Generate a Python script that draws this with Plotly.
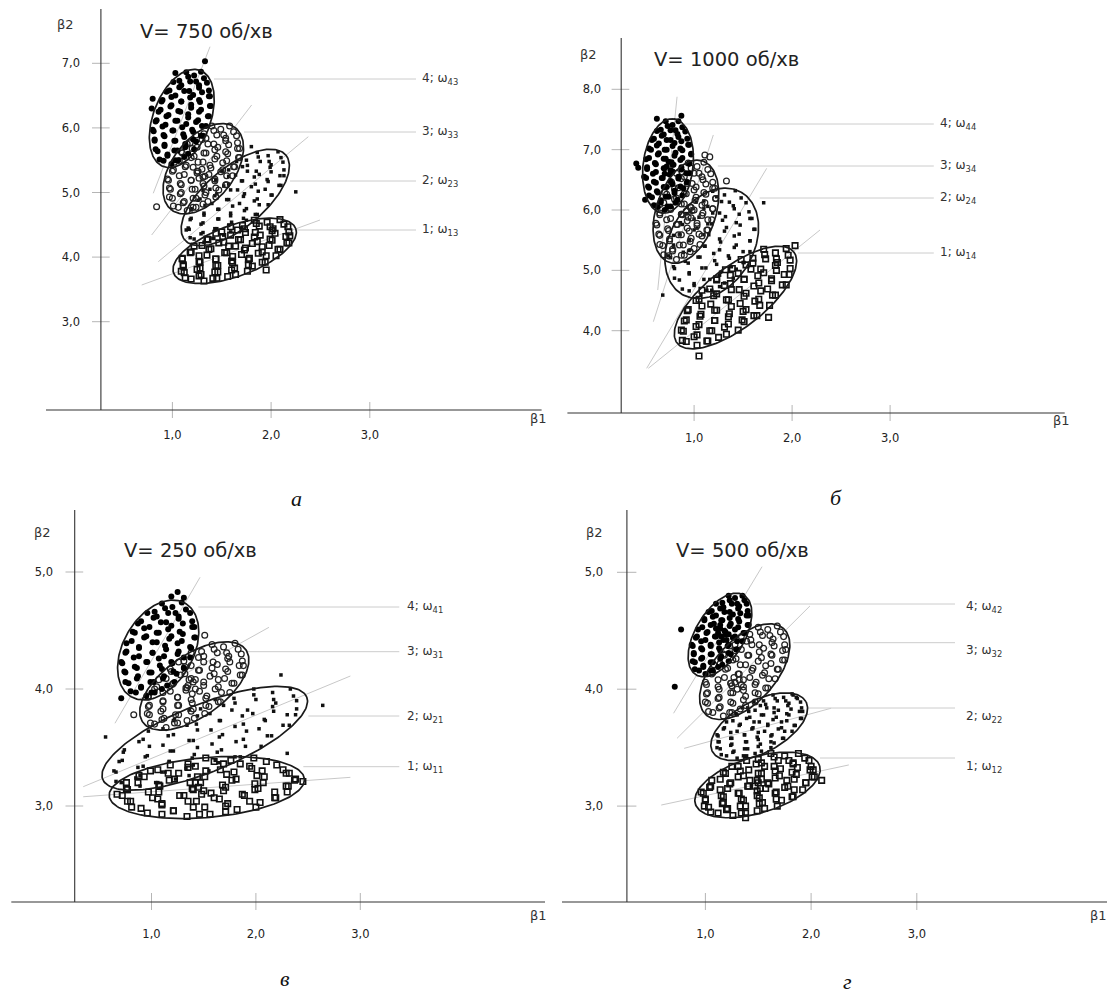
import numpy as np
import plotly.graph_objects as go

W, H = 1110, 999

# ---------------- data ----------------
speeds = ["V= 750 об/хв", "V= 1000 об/хв", "V= 250 об/хв", "V= 500 об/хв"]
panel_letters = ["а", "б", "в", "г"]
x_tickvals = [1, 2, 3]
x_ticktext = ["1,0", "2,0", "3,0"]
y_tickvals = [[3, 4, 5, 6, 7], [4, 5, 6, 7, 8], [3, 4, 5], [3, 4, 5]]
y_ticktext = [["3,0", "4,0", "5,0", "6,0", "7,0"], ["4,0", "5,0", "6,0", "7,0", "8,0"],
              ["3,0", "4,0", "5,0"], ["3,0", "4,0", "5,0"]]
class_labels = [
    ["1; ω<sub>13</sub>", "2; ω<sub>23</sub>", "3; ω<sub>33</sub>", "4; ω<sub>43</sub>"],
    ["1; ω<sub>14</sub>", "2; ω<sub>24</sub>", "3; ω<sub>34</sub>", "4; ω<sub>44</sub>"],
    ["1; ω<sub>11</sub>", "2; ω<sub>21</sub>", "3; ω<sub>31</sub>", "4; ω<sub>41</sub>"],
    ["1; ω<sub>12</sub>", "2; ω<sub>22</sub>", "3; ω<sub>32</sub>", "4; ω<sub>42</sub>"],
]

# ---- panel а (V=750) : (beta1, beta2)
A4 = [(1.14,6.86),(1.22,6.81),(1.29,6.87),
      (1.01,6.71),(1.09,6.66),(1.18,6.72),(1.27,6.66),(1.35,6.70),
      (0.94,6.56),(1.03,6.50),(1.12,6.57),(1.21,6.51),(1.30,6.55),(1.38,6.49),
      (0.89,6.41),(0.99,6.35),(1.09,6.41),(1.19,6.36),(1.28,6.40),(1.38,6.34),
      (0.86,6.25),(0.96,6.20),(1.06,6.26),(1.16,6.21),(1.27,6.25),(1.37,6.18),
      (0.83,6.10),(0.93,6.05),(1.03,6.11),(1.14,6.06),(1.24,6.09),(1.34,6.03),
      (0.81,5.95),(0.91,5.89),(1.01,5.96),(1.11,5.90),(1.21,5.94),(1.31,5.88),
      (0.82,5.80),(0.92,5.74),(1.03,5.80),(1.13,5.75),(1.24,5.79),
      (0.85,5.64),(0.95,5.59),(1.05,5.65),(1.16,5.60),
      (0.91,5.49),(0.99,5.44),(1.06,5.50),
      (1.33,7.03),(1.03,6.85),(0.79,6.30),(0.80,6.45),
      (1.07,6.73),(1.16,6.79),(1.24,6.72),(1.32,6.77),
      (0.97,6.58),(1.07,6.63),(1.17,6.57),(1.27,6.62),(1.37,6.58),
      (0.90,6.43),(0.99,6.48),(1.09,6.41),(1.18,6.47),(1.27,6.43),(1.37,6.49),
      (0.88,6.28),(0.98,6.33),(1.08,6.25),(1.19,6.31),(1.29,6.28),(1.39,6.34),
      (0.84,6.12),(0.94,6.18),(1.05,6.11),(1.16,6.16),(1.26,6.12),(1.36,6.18),
      (0.80,5.97),(0.90,6.02),(1.00,5.96),(1.10,6.01),(1.20,5.97),(1.30,6.03),
      (0.82,5.82),(0.92,5.87),(1.02,5.80),(1.12,5.86),(1.21,5.82),(1.29,5.88),
      (0.83,5.67),(0.92,5.72),(1.02,5.65),(1.13,5.70),(1.22,5.67),
      (0.87,5.51),(0.95,5.57),(1.03,5.50),(1.12,5.55)]
A3 = [(1.40,6.03),(1.49,5.98),(1.58,6.03),
      (1.24,5.89),(1.34,5.84),(1.45,5.89),(1.54,5.84),(1.65,5.88),
      (1.15,5.75),(1.25,5.70),(1.36,5.75),(1.46,5.70),(1.57,5.74),(1.68,5.68),
      (1.10,5.61),(1.22,5.56),(1.34,5.61),(1.45,5.56),(1.56,5.60),(1.68,5.54),
      (1.02,5.47),(1.14,5.42),(1.26,5.47),(1.38,5.42),(1.51,5.46),(1.63,5.40),
      (1.00,5.33),(1.12,5.28),(1.25,5.33),(1.37,5.28),(1.49,5.32),(1.61,5.26),
      (0.96,5.19),(1.08,5.14),(1.19,5.19),(1.31,5.14),(1.43,5.18),(1.55,5.12),
      (0.98,5.05),(1.09,5.00),(1.23,5.05),(1.34,5.00),(1.47,5.04),
      (1.00,4.91),(1.12,4.86),(1.24,4.91),(1.36,4.86),
      (1.06,4.77),(1.15,4.72),(1.24,4.77),
      (0.84,4.78),(1.25,5.30),(1.30,5.36),(1.27,5.22),(1.33,5.25),(1.21,5.39),
      (1.32,5.91),(1.42,5.96),(1.52,5.89),(1.62,5.94),
      (1.18,5.77),(1.30,5.82),(1.42,5.75),(1.54,5.80),(1.66,5.77),
      (1.09,5.63),(1.20,5.68),(1.32,5.61),(1.43,5.66),(1.54,5.63),(1.66,5.68),
      (1.07,5.49),(1.19,5.54),(1.31,5.47),(1.43,5.52),(1.55,5.49),(1.67,5.54),
      (1.01,5.35),(1.13,5.40),(1.26,5.33),(1.39,5.38),(1.51,5.35),(1.62,5.40),
      (0.95,5.21),(1.07,5.26),(1.19,5.19),(1.31,5.24),(1.43,5.21),(1.55,5.26),
      (0.97,5.07),(1.09,5.12),(1.20,5.05),(1.32,5.10),(1.44,5.07),(1.54,5.12),
      (0.97,4.93),(1.08,4.98),(1.21,4.91),(1.33,4.96),(1.44,4.93),
      (1.01,4.79),(1.11,4.84),(1.21,4.77),(1.31,4.82)]
A2 = [(1.86,5.62),(1.97,5.57),(2.07,5.63),
      (1.65,5.48),(1.76,5.42),(1.89,5.48),(2.00,5.43),(2.12,5.47),
      (1.51,5.33),(1.64,5.27),(1.76,5.33),(1.88,5.28),(2.00,5.32),(2.13,5.26),
      (1.44,5.18),(1.57,5.13),(1.71,5.18),(1.84,5.13),(1.97,5.17),(2.10,5.11),
      (1.31,5.03),(1.45,4.98),(1.59,5.04),(1.73,4.98),(1.87,5.02),(2.01,4.96),
      (1.26,4.88),(1.40,4.83),(1.55,4.89),(1.68,4.83),(1.83,4.87),(1.97,4.81),
      (1.19,4.73),(1.32,4.68),(1.46,4.74),(1.59,4.68),(1.73,4.72),(1.86,4.66),
      (1.18,4.58),(1.31,4.53),(1.47,4.59),(1.60,4.54),(1.75,4.57),
      (1.17,4.43),(1.31,4.38),(1.45,4.44),(1.59,4.39),
      (1.22,4.28),(1.32,4.23),(1.42,4.29),
      (2.25,5.01),(1.80,5.71),(1.14,4.42),
      (1.75,5.50),(1.87,5.55),(1.98,5.48),(2.10,5.54),
      (1.57,5.35),(1.71,5.40),(1.85,5.33),(1.99,5.39),(2.13,5.35),
      (1.44,5.20),(1.57,5.25),(1.70,5.18),(1.83,5.24),(1.96,5.20),(2.09,5.26),
      (1.38,5.05),(1.52,5.10),(1.66,5.04),(1.80,5.09),(1.94,5.05),(2.08,5.11),
      (1.28,4.90),(1.43,4.95),(1.57,4.89),(1.72,4.94),(1.86,4.90),(2.00,4.96),
      (1.19,4.75),(1.33,4.80),(1.47,4.74),(1.61,4.79),(1.75,4.75),(1.88,4.81),
      (1.19,4.60),(1.32,4.65),(1.46,4.59),(1.59,4.64),(1.72,4.60),(1.84,4.66),
      (1.16,4.45),(1.29,4.51),(1.43,4.44),(1.57,4.49),(1.70,4.45),
      (1.18,4.30),(1.29,4.36),(1.41,4.29),(1.52,4.34)]
A1 = [(1.83,4.57),(1.96,4.54),(2.09,4.58),
      (1.59,4.47),(1.73,4.44),(1.88,4.48),(2.02,4.44),(2.17,4.47),
      (1.44,4.37),(1.59,4.34),(1.74,4.38),(1.89,4.34),(2.04,4.37),(2.19,4.33),
      (1.36,4.27),(1.52,4.23),(1.69,4.27),(1.86,4.24),(2.01,4.26),(2.18,4.22),
      (1.22,4.17),(1.39,4.13),(1.57,4.17),(1.74,4.14),(1.91,4.16),(2.09,4.12),
      (1.18,4.07),(1.35,4.03),(1.53,4.07),(1.70,4.04),(1.87,4.06),(2.05,4.02),
      (1.10,3.97),(1.27,3.93),(1.44,3.97),(1.60,3.94),(1.77,3.96),(1.94,3.92),
      (1.11,3.86),(1.28,3.83),(1.46,3.87),(1.63,3.83),(1.81,3.86),
      (1.12,3.76),(1.29,3.73),(1.46,3.77),(1.64,3.73),
      (1.19,3.66),(1.32,3.63),(1.45,3.67),
      (1.95,3.80),
      (1.71,4.49),(1.85,4.52),(1.99,4.47),(2.13,4.51),
      (1.50,4.39),(1.66,4.42),(1.84,4.38),(2.01,4.41),(2.18,4.39),
      (1.35,4.28),(1.51,4.32),(1.67,4.27),(1.83,4.31),(1.99,4.28),(2.15,4.32),
      (1.30,4.18),(1.47,4.22),(1.64,4.17),(1.81,4.21),(1.98,4.18),(2.16,4.22),
      (1.19,4.08),(1.37,4.12),(1.55,4.07),(1.73,4.11),(1.91,4.08),(2.07,4.12),
      (1.10,3.98),(1.27,4.02),(1.44,3.97),(1.61,4.01),(1.78,3.98),(1.95,4.02),
      (1.11,3.88),(1.28,3.92),(1.44,3.87),(1.61,3.91),(1.77,3.88),(1.91,3.92),
      (1.09,3.78),(1.25,3.81),(1.43,3.77),(1.60,3.80),(1.76,3.78),
      (1.13,3.68),(1.27,3.71),(1.41,3.67),(1.56,3.70)]

# ---- panel б (V=1000)
B4 = [(0.71,7.47),(0.78,7.41),(0.84,7.47),
      (0.62,7.31),(0.69,7.25),(0.76,7.32),(0.83,7.26),(0.91,7.30),
      (0.57,7.16),(0.64,7.10),(0.72,7.16),(0.80,7.11),(0.87,7.14),(0.95,7.08),
      (0.56,7.00),(0.64,6.94),(0.72,7.00),(0.81,6.95),(0.88,6.99),(0.97,6.93),
      (0.51,6.84),(0.60,6.78),(0.69,6.85),(0.77,6.79),(0.86,6.83),(0.95,6.77),
      (0.52,6.68),(0.61,6.63),(0.70,6.69),(0.78,6.64),(0.87,6.67),(0.95,6.61),
      (0.51,6.53),(0.59,6.47),(0.68,6.53),(0.76,6.48),(0.84,6.52),(0.93,6.46),
      (0.54,6.37),(0.62,6.31),(0.72,6.38),(0.80,6.32),(0.89,6.36),
      (0.57,6.21),(0.66,6.16),(0.74,6.22),(0.83,6.17),
      (0.63,6.05),(0.70,6.00),(0.76,6.06),
      (0.43,6.70),(0.41,6.77),(0.87,7.56),(0.62,7.51),(0.50,6.17),
      (0.72,6.72),(0.76,6.66),(0.70,6.60),(0.78,6.75),(0.74,6.80),
      (0.66,7.33),(0.73,7.39),(0.81,7.32),(0.88,7.37),
      (0.59,7.18),(0.67,7.23),(0.76,7.16),(0.84,7.21),(0.93,7.18),
      (0.54,7.02),(0.62,7.07),(0.70,7.00),(0.78,7.06),(0.86,7.02),(0.94,7.08),
      (0.54,6.86),(0.63,6.92),(0.71,6.85),(0.80,6.90),(0.88,6.86),(0.97,6.92),
      (0.52,6.71),(0.61,6.76),(0.69,6.69),(0.79,6.75),(0.87,6.71),(0.95,6.77),
      (0.49,6.55),(0.58,6.60),(0.67,6.53),(0.75,6.59),(0.84,6.55),(0.92,6.61),
      (0.53,6.39),(0.61,6.45),(0.69,6.38),(0.78,6.43),(0.86,6.39),(0.93,6.46),
      (0.54,6.24),(0.63,6.29),(0.71,6.22),(0.80,6.28),(0.88,6.24),
      (0.59,6.08),(0.66,6.13),(0.73,6.06),(0.81,6.12)]
B3 = [(0.94,6.78),(1.03,6.72),(1.10,6.79),
      (0.82,6.61),(0.90,6.55),(1.00,6.61),(1.08,6.55),(1.17,6.60),
      (0.75,6.43),(0.84,6.37),(0.93,6.44),(1.02,6.38),(1.12,6.43),(1.21,6.36),
      (0.72,6.26),(0.82,6.20),(0.92,6.27),(1.02,6.21),(1.12,6.26),(1.22,6.19),
      (0.65,6.09),(0.76,6.03),(0.87,6.10),(0.97,6.04),(1.08,6.08),(1.19,6.02),
      (0.65,5.92),(0.76,5.86),(0.87,5.93),(0.97,5.87),(1.08,5.91),(1.18,5.84),
      (0.62,5.75),(0.73,5.69),(0.83,5.76),(0.93,5.70),(1.03,5.74),(1.14,5.67),
      (0.65,5.58),(0.75,5.52),(0.87,5.59),(0.97,5.53),(1.08,5.57),
      (0.68,5.41),(0.78,5.35),(0.89,5.42),(1.00,5.36),
      (0.74,5.24),(0.82,5.18),(0.90,5.25),
      (1.11,6.91),(1.16,6.88),(1.33,6.48),
      (0.92,5.98),(0.96,6.05),(0.88,5.92),(0.94,5.88),(1.00,6.00),
      (0.88,6.63),(0.97,6.69),(1.05,6.61),(1.14,6.67),
      (0.77,6.46),(0.87,6.52),(0.98,6.44),(1.09,6.50),(1.19,6.46),
      (0.70,6.29),(0.80,6.35),(0.90,6.27),(1.00,6.33),(1.10,6.29),(1.19,6.36),
      (0.69,6.12),(0.80,6.18),(0.90,6.10),(1.01,6.16),(1.11,6.12),(1.22,6.19),
      (0.65,5.95),(0.76,6.01),(0.87,5.93),(0.98,5.99),(1.09,5.95),(1.19,6.02),
      (0.61,5.78),(0.72,5.84),(0.82,5.76),(0.93,5.82),(1.03,5.78),(1.14,5.84),
      (0.64,5.60),(0.74,5.66),(0.84,5.59),(0.95,5.65),(1.05,5.60),(1.13,5.67),
      (0.65,5.43),(0.75,5.49),(0.85,5.42),(0.96,5.48),(1.06,5.43),
      (0.69,5.26),(0.78,5.32),(0.87,5.25),(0.96,5.31)]
B2 = [(1.19,6.31),(1.31,6.25),(1.42,6.32),
      (1.02,6.13),(1.14,6.06),(1.28,6.14),(1.40,6.07),(1.53,6.12),
      (0.92,5.94),(1.05,5.88),(1.19,5.95),(1.32,5.89),(1.46,5.93),(1.59,5.86),
      (0.88,5.76),(1.03,5.70),(1.18,5.77),(1.33,5.71),(1.47,5.75),(1.62,5.68),
      (0.79,5.58),(0.95,5.51),(1.10,5.59),(1.26,5.52),(1.41,5.57),(1.57,5.49),
      (0.79,5.39),(0.95,5.33),(1.11,5.40),(1.26,5.34),(1.41,5.38),(1.57,5.31),
      (0.76,5.21),(0.91,5.15),(1.06,5.22),(1.21,5.16),(1.36,5.20),(1.51,5.13),
      (0.80,5.03),(0.95,4.96),(1.12,5.04),(1.27,4.97),(1.43,5.02),
      (0.85,4.84),(1.00,4.78),(1.16,4.85),(1.31,4.79),
      (0.95,4.66),(1.07,4.60),(1.18,4.67),
      (1.71,6.12),(0.68,4.59),
      (1.10,6.15),(1.23,6.22),(1.36,6.13),(1.48,6.20),
      (0.96,5.97),(1.10,6.03),(1.26,5.95),(1.41,6.02),(1.56,5.97),
      (0.86,5.79),(1.00,5.85),(1.14,5.77),(1.29,5.83),(1.43,5.79),(1.57,5.86),
      (0.85,5.60),(1.00,5.67),(1.15,5.59),(1.31,5.65),(1.46,5.60),(1.61,5.68),
      (0.79,5.42),(0.95,5.49),(1.11,5.40),(1.27,5.47),(1.43,5.42),(1.57,5.49),
      (0.74,5.24),(0.89,5.30),(1.04,5.22),(1.20,5.28),(1.35,5.24),(1.50,5.31),
      (0.79,5.06),(0.94,5.12),(1.08,5.04),(1.23,5.10),(1.38,5.06),(1.50,5.13),
      (0.80,4.87),(0.95,4.94),(1.10,4.85),(1.26,4.92),(1.40,4.87),
      (0.88,4.69),(1.00,4.75),(1.13,4.67),(1.26,4.73)]
B1 = [(1.71,5.35),(1.83,5.29),(1.94,5.36),
      (1.48,5.18),(1.60,5.12),(1.73,5.19),(1.85,5.13),(1.98,5.17),
      (1.32,5.01),(1.45,4.95),(1.58,5.02),(1.71,4.96),(1.84,5.00),(1.97,4.93),
      (1.23,4.84),(1.37,4.78),(1.51,4.85),(1.66,4.79),(1.79,4.83),(1.94,4.76),
      (1.08,4.67),(1.23,4.61),(1.38,4.68),(1.53,4.62),(1.68,4.66),(1.83,4.59),
      (1.02,4.50),(1.17,4.44),(1.33,4.51),(1.47,4.45),(1.62,4.49),(1.77,4.42),
      (0.93,4.33),(1.07,4.27),(1.21,4.34),(1.36,4.28),(1.50,4.32),(1.64,4.25),
      (0.90,4.16),(1.05,4.10),(1.21,4.17),(1.35,4.11),(1.51,4.15),
      (0.89,3.99),(1.03,3.93),(1.18,4.00),(1.33,3.94),
      (0.92,3.82),(1.03,3.76),(1.14,3.83),
      (1.05,3.58),(2.03,5.41),(1.76,4.22),
      (1.60,5.20),(1.72,5.26),(1.84,5.19),(1.96,5.25),
      (1.39,5.03),(1.53,5.09),(1.68,5.02),(1.83,5.08),(1.98,5.03),
      (1.23,4.86),(1.37,4.92),(1.51,4.85),(1.65,4.91),(1.79,4.86),(1.92,4.93),
      (1.16,4.69),(1.31,4.75),(1.46,4.68),(1.61,4.74),(1.75,4.69),(1.90,4.76),
      (1.05,4.52),(1.20,4.58),(1.35,4.51),(1.51,4.57),(1.66,4.52),(1.80,4.59),
      (0.94,4.35),(1.08,4.41),(1.23,4.34),(1.38,4.40),(1.53,4.35),(1.67,4.42),
      (0.92,4.18),(1.06,4.24),(1.21,4.17),(1.35,4.23),(1.49,4.18),(1.61,4.25),
      (0.87,4.01),(1.02,4.07),(1.16,4.00),(1.31,4.06),(1.45,4.01),
      (0.88,3.84),(1.00,3.90),(1.13,3.83),(1.25,3.89)]

# ---- panel в (V=250)
C4 = [(1.10,4.73),(1.20,4.70),(1.29,4.74),
      (0.96,4.65),(1.05,4.62),(1.16,4.65),(1.26,4.62),(1.37,4.65),
      (0.87,4.56),(0.98,4.53),(1.09,4.57),(1.19,4.54),(1.30,4.56),(1.41,4.53),
      (0.84,4.48),(0.95,4.45),(1.07,4.48),(1.19,4.45),(1.30,4.47),(1.42,4.44),
      (0.76,4.39),(0.88,4.36),(1.01,4.40),(1.13,4.37),(1.25,4.39),(1.37,4.36),
      (0.75,4.31),(0.88,4.28),(1.01,4.31),(1.12,4.28),(1.25,4.30),(1.37,4.27),
      (0.72,4.22),(0.84,4.19),(0.96,4.23),(1.08,4.20),(1.20,4.22),(1.31,4.18),
      (0.75,4.14),(0.87,4.11),(1.00,4.14),(1.12,4.11),(1.24,4.13),
      (0.78,4.05),(0.90,4.02),(1.02,4.06),(1.15,4.03),
      (0.85,3.97),(0.95,3.94),(1.03,3.97),
      (1.25,4.83),(1.19,4.79),(1.31,4.78),(0.71,3.92),
      (1.03,4.66),(1.13,4.69),(1.23,4.65),(1.33,4.68),
      (0.90,4.58),(1.02,4.61),(1.14,4.57),(1.26,4.60),(1.39,4.58),
      (0.82,4.49),(0.93,4.52),(1.05,4.48),(1.16,4.51),(1.27,4.49),(1.39,4.53),
      (0.81,4.41),(0.93,4.44),(1.05,4.40),(1.17,4.43),(1.29,4.41),(1.41,4.44),
      (0.76,4.32),(0.88,4.35),(1.01,4.31),(1.14,4.34),(1.26,4.32),(1.38,4.35),
      (0.71,4.23),(0.83,4.27),(0.95,4.23),(1.07,4.26),(1.19,4.23),(1.31,4.27),
      (0.74,4.15),(0.86,4.18),(0.98,4.14),(1.10,4.17),(1.21,4.15),(1.31,4.18),
      (0.75,4.06),(0.86,4.09),(0.99,4.06),(1.11,4.09),(1.22,4.06),
      (0.80,3.98),(0.90,4.01),(1.00,3.97),(1.10,4.00)]
C3 = [(1.58,4.38),(1.69,4.36),(1.80,4.39),
      (1.38,4.31),(1.50,4.28),(1.63,4.31),(1.74,4.28),(1.86,4.30),
      (1.26,4.23),(1.38,4.20),(1.50,4.23),(1.63,4.21),(1.75,4.23),(1.88,4.20),
      (1.19,4.15),(1.32,4.13),(1.46,4.16),(1.60,4.13),(1.73,4.15),(1.87,4.12),
      (1.07,4.08),(1.21,4.05),(1.36,4.08),(1.50,4.06),(1.64,4.08),(1.79,4.05),
      (1.03,4.00),(1.18,3.98),(1.33,4.01),(1.46,3.98),(1.61,4.00),(1.75,3.97),
      (0.97,3.93),(1.11,3.90),(1.25,3.93),(1.38,3.91),(1.52,3.92),(1.66,3.89),
      (0.97,3.85),(1.11,3.83),(1.26,3.86),(1.40,3.83),(1.55,3.85),
      (0.98,3.78),(1.12,3.75),(1.26,3.78),(1.41,3.75),
      (1.03,3.70),(1.14,3.67),(1.25,3.71),
      (1.51,4.46),(0.83,3.78),(1.35,4.03),(1.40,4.06),(1.33,3.99),(1.42,4.00),(1.38,4.09),
      (1.48,4.32),(1.60,4.34),(1.72,4.31),(1.83,4.34),
      (1.31,4.24),(1.45,4.27),(1.59,4.23),(1.73,4.26),(1.87,4.24),
      (1.18,4.17),(1.32,4.19),(1.45,4.16),(1.58,4.18),(1.71,4.17),(1.84,4.20),
      (1.14,4.09),(1.28,4.12),(1.42,4.08),(1.56,4.11),(1.70,4.09),(1.85,4.12),
      (1.05,4.02),(1.20,4.04),(1.34,4.01),(1.50,4.03),(1.64,4.02),(1.77,4.05),
      (0.97,3.94),(1.11,3.97),(1.25,3.93),(1.39,3.96),(1.53,3.94),(1.67,3.97),
      (0.98,3.86),(1.11,3.89),(1.25,3.86),(1.39,3.88),(1.52,3.86),(1.64,3.89),
      (0.96,3.79),(1.09,3.81),(1.23,3.78),(1.38,3.81),(1.51,3.79),
      (0.99,3.71),(1.10,3.74),(1.22,3.71),(1.34,3.73)]
C2 = [(1.98,4.00),(2.16,3.97),(2.33,4.00),
      (1.61,3.91),(1.80,3.88),(2.00,3.91),(2.19,3.88),(2.39,3.90),
      (1.36,3.82),(1.56,3.79),(1.77,3.82),(1.97,3.79),(2.17,3.81),(2.38,3.78),
      (1.21,3.73),(1.43,3.70),(1.66,3.73),(1.88,3.70),(2.09,3.73),(2.32,3.69),
      (0.97,3.64),(1.21,3.61),(1.44,3.65),(1.68,3.61),(1.91,3.64),(2.15,3.60),
      (0.88,3.55),(1.11,3.52),(1.36,3.56),(1.58,3.53),(1.81,3.55),(2.05,3.51),
      (0.73,3.46),(0.96,3.43),(1.18,3.47),(1.41,3.44),(1.63,3.46),(1.85,3.42),
      (0.69,3.38),(0.92,3.34),(1.17,3.38),(1.40,3.35),(1.64,3.37),
      (0.66,3.29),(0.89,3.26),(1.13,3.29),(1.36,3.26),
      (0.71,3.20),(0.89,3.17),(1.06,3.20),
      (2.24,4.12),(2.64,3.86),(0.56,3.59),(2.30,3.45),
      (1.79,3.92),(1.98,3.95),(2.17,3.91),(2.36,3.94),
      (1.47,3.83),(1.69,3.86),(1.92,3.82),(2.16,3.85),(2.39,3.83),
      (1.22,3.74),(1.44,3.77),(1.65,3.73),(1.87,3.77),(2.08,3.74),(2.30,3.78),
      (1.11,3.66),(1.34,3.69),(1.57,3.65),(1.80,3.68),(2.03,3.66),(2.26,3.69),
      (0.92,3.57),(1.16,3.60),(1.40,3.56),(1.65,3.59),(1.88,3.57),(2.11,3.60),
      (0.74,3.48),(0.98,3.51),(1.21,3.47),(1.44,3.50),(1.67,3.48),(1.90,3.51),
      (0.72,3.39),(0.94,3.42),(1.17,3.38),(1.39,3.41),(1.61,3.39),(1.80,3.42),
      (0.64,3.30),(0.87,3.33),(1.10,3.29),(1.33,3.32),(1.55,3.30),
      (0.66,3.21),(0.85,3.24),(1.04,3.20),(1.23,3.23)]
C1 = [(1.52,3.41),(1.76,3.39),(1.98,3.41),
      (1.18,3.35),(1.42,3.34),(1.69,3.36),(1.94,3.34),(2.20,3.35),
      (0.99,3.30),(1.26,3.28),(1.52,3.30),(1.79,3.29),(2.06,3.30),(2.32,3.28),
      (0.93,3.25),(1.22,3.23),(1.51,3.25),(1.81,3.23),(2.08,3.25),(2.38,3.23),
      (0.76,3.20),(1.07,3.18),(1.37,3.20),(1.68,3.18),(1.99,3.19),(2.29,3.17),
      (0.77,3.14),(1.07,3.12),(1.40,3.14),(1.69,3.13),(1.99,3.14),(2.30,3.12),
      (0.72,3.09),(1.01,3.07),(1.31,3.09),(1.60,3.07),(1.89,3.09),(2.19,3.07),
      (0.80,3.04),(1.10,3.02),(1.43,3.04),(1.73,3.02),(2.04,3.03),
      (0.90,2.98),(1.21,2.96),(1.51,2.99),(1.82,2.97),
      (1.10,2.93),(1.34,2.91),(1.56,2.93),
      (2.45,3.21),(1.45,3.16),(1.48,3.10),(1.42,3.20),(1.50,3.13),
      (1.35,3.36),(1.60,3.38),(1.85,3.36),(2.10,3.38),
      (1.06,3.31),(1.35,3.33),(1.66,3.31),(1.96,3.32),(2.26,3.31),
      (0.88,3.26),(1.16,3.28),(1.44,3.25),(1.72,3.27),(2.01,3.26),(2.29,3.28),
      (0.87,3.20),(1.17,3.22),(1.47,3.20),(1.77,3.22),(2.07,3.20),(2.37,3.22),
      (0.76,3.15),(1.08,3.17),(1.39,3.15),(1.71,3.16),(2.02,3.15),(2.31,3.17),
      (0.67,3.10),(0.97,3.12),(1.27,3.09),(1.57,3.11),(1.87,3.10),(2.18,3.12),
      (0.77,3.04),(1.06,3.06),(1.35,3.04),(1.65,3.06),(1.94,3.04),(2.18,3.07),
      (0.81,2.99),(1.10,3.01),(1.40,2.99),(1.71,3.00),(2.00,2.99),
      (0.96,2.94),(1.21,2.96),(1.46,2.93),(1.71,2.95)]

# ---- panel г (V=500)
D4 = [(1.22,4.80),(1.28,4.78),(1.35,4.80),
      (1.10,4.73),(1.17,4.70),(1.25,4.73),(1.32,4.71),(1.39,4.73),
      (1.03,4.66),(1.10,4.63),(1.18,4.66),(1.26,4.64),(1.33,4.65),(1.41,4.63),
      (0.99,4.59),(1.08,4.56),(1.16,4.59),(1.24,4.56),(1.32,4.58),(1.41,4.55),
      (0.93,4.51),(1.02,4.49),(1.10,4.52),(1.19,4.49),(1.28,4.51),(1.37,4.48),
      (0.91,4.44),(1.00,4.42),(1.09,4.45),(1.17,4.42),(1.26,4.44),(1.35,4.41),
      (0.88,4.37),(0.96,4.35),(1.05,4.38),(1.13,4.35),(1.21,4.37),(1.30,4.34),
      (0.89,4.30),(0.97,4.27),(1.06,4.30),(1.15,4.28),(1.24,4.30),
      (0.90,4.23),(0.98,4.20),(1.07,4.23),(1.16,4.21),
      (0.94,4.16),(1.00,4.13),(1.07,4.16),
      (0.77,4.51),(0.71,4.02),(1.15,4.45),(1.18,4.50),(1.12,4.48),(1.20,4.42),(1.14,4.55),(1.22,4.47),
      (1.16,4.74),(1.23,4.76),(1.30,4.73),(1.37,4.76),
      (1.06,4.67),(1.14,4.69),(1.23,4.66),(1.31,4.69),(1.40,4.67),
      (0.99,4.60),(1.07,4.62),(1.15,4.59),(1.23,4.61),(1.31,4.60),(1.39,4.63),
      (0.97,4.53),(1.05,4.55),(1.14,4.52),(1.23,4.54),(1.31,4.53),(1.40,4.55),
      (0.92,4.45),(1.01,4.48),(1.10,4.45),(1.19,4.47),(1.28,4.45),(1.36,4.48),
      (0.87,4.38),(0.96,4.41),(1.05,4.37),(1.13,4.40),(1.22,4.38),(1.30,4.41),
      (0.89,4.31),(0.97,4.34),(1.05,4.30),(1.14,4.33),(1.22,4.31),(1.29,4.34),
      (0.88,4.24),(0.96,4.26),(1.05,4.23),(1.14,4.26),(1.22,4.24),
      (0.90,4.17),(0.98,4.19),(1.05,4.16),(1.12,4.19)]
D3 = [(1.50,4.53),(1.59,4.51),(1.68,4.54),
      (1.34,4.45),(1.43,4.42),(1.54,4.46),(1.64,4.43),(1.74,4.45),
      (1.23,4.37),(1.34,4.34),(1.44,4.38),(1.55,4.35),(1.65,4.37),(1.76,4.34),
      (1.18,4.29),(1.29,4.26),(1.41,4.29),(1.53,4.27),(1.63,4.29),(1.75,4.25),
      (1.08,4.21),(1.21,4.18),(1.33,4.21),(1.45,4.18),(1.57,4.20),(1.69,4.17),
      (1.06,4.13),(1.18,4.10),(1.31,4.13),(1.42,4.10),(1.54,4.12),(1.66,4.09),
      (1.01,4.04),(1.12,4.02),(1.24,4.05),(1.36,4.02),(1.47,4.04),(1.59,4.01),
      (1.01,3.96),(1.13,3.93),(1.26,3.97),(1.38,3.94),(1.50,3.96),
      (1.02,3.88),(1.14,3.85),(1.26,3.88),(1.38,3.86),
      (1.07,3.80),(1.17,3.77),(1.25,3.80),
      (1.28,4.06),(1.32,4.08),(1.25,4.03),(1.30,4.00),(1.34,4.04),(1.27,4.10),
      (1.42,4.47),(1.52,4.49),(1.61,4.46),(1.71,4.49),
      (1.28,4.38),(1.39,4.41),(1.51,4.38),(1.63,4.40),(1.75,4.38),
      (1.17,4.30),(1.28,4.33),(1.40,4.29),(1.51,4.32),(1.62,4.30),(1.73,4.33),
      (1.14,4.22),(1.26,4.25),(1.38,4.21),(1.50,4.24),(1.62,4.22),(1.73,4.25),
      (1.07,4.14),(1.19,4.17),(1.32,4.13),(1.44,4.16),(1.56,4.14),(1.68,4.17),
      (1.00,4.06),(1.12,4.08),(1.24,4.05),(1.36,4.08),(1.48,4.06),(1.60,4.09),
      (1.02,3.97),(1.13,4.00),(1.24,3.97),(1.36,3.99),(1.47,3.97),(1.57,4.01),
      (1.00,3.89),(1.12,3.92),(1.24,3.89),(1.36,3.91),(1.47,3.89),
      (1.03,3.81),(1.13,3.84),(1.23,3.80),(1.33,3.83)]
D2 = [(1.64,3.95),(1.74,3.93),(1.83,3.95),
      (1.46,3.89),(1.57,3.87),(1.68,3.90),(1.79,3.88),(1.90,3.89),
      (1.35,3.84),(1.47,3.82),(1.58,3.84),(1.69,3.82),(1.81,3.83),(1.92,3.81),
      (1.30,3.78),(1.42,3.76),(1.55,3.78),(1.67,3.76),(1.79,3.78),(1.91,3.75),
      (1.20,3.72),(1.33,3.70),(1.46,3.72),(1.59,3.70),(1.72,3.72),(1.85,3.69),
      (1.17,3.66),(1.30,3.64),(1.44,3.66),(1.56,3.64),(1.69,3.66),(1.82,3.64),
      (1.12,3.60),(1.24,3.58),(1.37,3.61),(1.49,3.59),(1.62,3.60),(1.74,3.58),
      (1.12,3.55),(1.25,3.53),(1.39,3.55),(1.52,3.53),(1.65,3.54),
      (1.14,3.49),(1.27,3.47),(1.40,3.49),(1.53,3.47),
      (1.20,3.43),(1.30,3.41),(1.39,3.43),
      (1.82,3.96),(1.86,3.93),
      (1.55,3.90),(1.66,3.92),(1.76,3.90),(1.87,3.92),
      (1.40,3.84),(1.52,3.86),(1.65,3.84),(1.78,3.86),(1.91,3.84),
      (1.29,3.79),(1.41,3.81),(1.53,3.78),(1.65,3.80),(1.77,3.79),(1.89,3.81),
      (1.26,3.73),(1.39,3.75),(1.51,3.72),(1.64,3.74),(1.77,3.73),(1.90,3.75),
      (1.18,3.67),(1.32,3.69),(1.45,3.67),(1.59,3.69),(1.72,3.67),(1.84,3.69),
      (1.11,3.61),(1.24,3.63),(1.37,3.61),(1.50,3.63),(1.63,3.61),(1.75,3.64),
      (1.13,3.55),(1.25,3.58),(1.38,3.55),(1.50,3.57),(1.62,3.55),(1.73,3.58),
      (1.11,3.50),(1.24,3.52),(1.37,3.49),(1.50,3.51),(1.62,3.50),
      (1.15,3.44),(1.26,3.46),(1.36,3.43),(1.47,3.45)]
D1 = [(1.62,3.45),(1.75,3.43),(1.88,3.45),
      (1.39,3.39),(1.53,3.37),(1.69,3.39),(1.83,3.37),(1.98,3.39),
      (1.25,3.34),(1.41,3.31),(1.56,3.34),(1.71,3.32),(1.87,3.33),(2.02,3.31),
      (1.19,3.28),(1.36,3.26),(1.53,3.28),(1.70,3.26),(1.86,3.27),(2.03,3.25),
      (1.06,3.22),(1.24,3.20),(1.42,3.22),(1.59,3.20),(1.77,3.22),(1.95,3.20),
      (1.04,3.16),(1.21,3.15),(1.40,3.17),(1.57,3.15),(1.75,3.16),(1.92,3.14),
      (0.98,3.11),(1.15,3.09),(1.32,3.11),(1.49,3.09),(1.66,3.11),(1.83,3.08),
      (1.00,3.05),(1.17,3.03),(1.36,3.05),(1.54,3.03),(1.72,3.05),
      (1.03,2.99),(1.21,2.98),(1.38,3.00),(1.56,2.98),
      (1.12,2.94),(1.26,2.92),(1.38,2.94),
      (2.10,3.22),(1.38,2.90),(1.50,3.20),(1.47,3.17),(1.53,3.23),(1.52,3.15),
      (1.50,3.40),(1.65,3.42),(1.79,3.39),(1.94,3.41),
      (1.31,3.34),(1.48,3.36),(1.65,3.34),(1.83,3.36),(2.00,3.34),
      (1.17,3.29),(1.33,3.30),(1.50,3.28),(1.66,3.30),(1.82,3.29),(1.99,3.31),
      (1.14,3.23),(1.31,3.25),(1.49,3.22),(1.66,3.24),(1.84,3.23),(2.01,3.25),
      (1.05,3.17),(1.23,3.19),(1.41,3.17),(1.60,3.19),(1.78,3.17),(1.95,3.20),
      (0.96,3.12),(1.14,3.14),(1.31,3.11),(1.49,3.13),(1.67,3.12),(1.84,3.14),
      (1.00,3.06),(1.17,3.08),(1.34,3.06),(1.51,3.07),(1.67,3.06),(1.82,3.08),
      (0.99,3.00),(1.16,3.02),(1.33,3.00),(1.51,3.02),(1.68,3.00),
      (1.05,2.95),(1.20,2.97),(1.34,2.94),(1.49,2.96)]

POINTS = [[A1, A2, A3, A4], [B1, B2, B3, B4], [C1, C2, C3, C4], [D1, D2, D3, D4]]

# dispersion ellipses: centre (beta1, beta2), semi-axes (screen px), tilt (deg)
ELL_A = [(1.631,4.097,65,25.5,20),(1.637,4.923,66,30,40),(1.313,5.368,52,31,52),(1.095,6.146,51.5,28.6,69)]
ELL_B = [(1.422,4.55,74,30,38),(1.18,5.448,59,42,60),(0.917,5.972,53.4,29.9,72),(0.734,6.729,47.5,25,83)]
ELL_C = [(1.53,3.158,98,30,5),(1.51,3.579,110,34,22),(1.41,4.026,63,31,35),(1.064,4.333,54,35,60)]
ELL_D = [(1.493,3.181,65,28,17),(1.509,3.679,53,26,28),(1.372,4.15,58,31,48),(1.138,4.464,46.5,24.5,59)]
ELLIPSES = [ELL_A, ELL_B, ELL_C, ELL_D]

# principal-axis lines (beta1, beta2) end points, classes 1..4
REG_A = [((0.689,3.568),(2.495,4.574)),((0.857,3.929),(2.377,5.864)),((0.790,4.342),(1.803,6.355)),((0.806,4.988),(1.381,7.257))]
REG_B = [((0.533,3.377),(2.285,5.669)),((0.516,3.377),(1.741,6.691)),((0.584,4.149),(1.196,7.243)),((0.629,4.674),(0.826,7.877))]
REG_C = [((0.346,3.079),(2.905,3.245)),((0.346,3.165),(2.905,4.111)),((0.871,3.906),(2.125,4.527)),((0.650,3.707),(1.465,4.955))]
REG_D = [((0.582,3.009),(2.357,3.352)),((0.799,3.494),(2.189,3.837)),((0.732,3.580),(1.989,4.712)),((0.699,3.794),(1.536,5.048))]
REGLINES = [REG_A, REG_B, REG_C, REG_D]

# ---------------- layout geometry (pixels) ----------------
GEO = [
    dict(X1=172.4, sx=98.7, Yv=7, Ypx=63.3, sy=64.6, dom=(0, 550, 0, 445),
         yax_px=100.9, yax_py=(9, 410), xax_py=410, xax_px=(46, 541.6),
         xtick_py=(402, 418), ytick_px=(92, 109.7), xlab_py=426, ylab_px=80,
         title=(138, 32), b2=(65.5, 25), b1=(538, 418), letter=(296, 499),
         leaders=[(230, 295.6, 416), (181, 290, 416), (132, 244, 416), (79, 214, 416)],
         lab_px=419.5, lab_py=[230, 181, 132, 79]),
    dict(X1=694.1, sx=98.0, Yv=8, Ypx=89.3, sy=60.35, dom=(555, 1110, 0, 445),
         yax_px=621.2, yax_py=(38, 413), xax_py=413, xax_px=(567.4, 1064.7),
         xtick_py=(405, 421), ytick_px=(611.6, 629.3), xlab_py=429, ylab_px=601,
         title=(652.3, 60), b2=(588.6, 55), b1=(1061, 421), letter=(836, 497),
         leaders=[(253, 797.8, 933.8), (198, 759.6, 933.8), (166, 717.8, 933.8), (124, 684.2, 933.8)],
         lab_px=938.4, lab_py=[253, 198, 166, 124]),
    dict(X1=151.5, sx=104.4, Yv=5, Ypx=572, sy=117, dom=(0, 550, 480, 945),
         yax_px=74.7, yax_py=(510, 902), xax_py=902, xax_px=(11.3, 545),
         xtick_py=(893, 910), ytick_px=(65.5, 83.2), xlab_py=925, ylab_px=53,
         title=(122, 550.7), b2=(42.5, 532), b1=(538, 915), letter=(285, 978),
         leaders=[(766.7, 303.3, 399.3), (716, 308.3, 399.3), (651.7, 246.7, 399.3), (607, 198.3, 399.3)],
         lab_px=405.3, lab_py=[766.7, 716.7, 651.7, 607]),
    dict(X1=705.4, sx=105.7, Yv=5, Ypx=572.3, sy=116.9, dom=(555, 1110, 480, 945),
         yax_px=626.9, yax_py=(510, 902), xax_py=902, xax_px=(562, 1107),
         xtick_py=(893, 910), ytick_px=(617, 636.4), xlab_py=925, ylab_px=603,
         title=(673.6, 550.7), b2=(594, 532), b1=(1098.4, 915), letter=(847, 981),
         leaders=[(758, 820, 955), (708, 808.3, 955), (642.7, 793.3, 955), (604, 753.3, 955)],
         lab_px=963.8, lab_py=[766.7, 716.7, 651, 606.7]),
]

MARKERS = [
    dict(symbol="square-open", size=5.5, color="#111", line=dict(width=1.6, color="#111")),
    dict(symbol="square", size=3.5, color="#111"),
    dict(symbol="circle-open", size=5.8, color="#222", line=dict(width=1.25, color="#222")),
    dict(symbol="circle", size=6, color="#000"),
]

SANS = "DejaVu Sans"
fig = go.Figure()
annotations = []
layout_axes = {}

for i, G in enumerate(GEO):
    n = "" if i == 0 else str(i + 1)
    xa, ya = "x" + n, "y" + n

    def b1(px, G=G):
        return 1 + (px - G["X1"]) / G["sx"]

    def b2(py, G=G):
        return G["Yv"] - (py - G["Ypx"]) / G["sy"]

    common = dict(xaxis=xa, yaxis=ya, hoverinfo="skip", showlegend=False)

    # principal axis lines
    xs, ys = [], []
    for p0, p1 in REGLINES[i]:
        xs += [p0[0], p1[0], None]
        ys += [p0[1], p1[1], None]
    fig.add_trace(go.Scatter(x=xs, y=ys, mode="lines", line=dict(color="#c8c8c8", width=1), **common))

    # leader lines to the class labels
    xs, ys = [], []
    for py, p0, p1 in G["leaders"]:
        xs += [b1(p0), b1(p1), None]
        ys += [b2(py), b2(py), None]
    fig.add_trace(go.Scatter(x=xs, y=ys, mode="lines", line=dict(color="#cccccc", width=1), **common))

    # tick marks crossing the axes
    xs, ys = [], []
    for v in x_tickvals:
        xs += [v, v, None]
        ys += [b2(G["xtick_py"][0]), b2(G["xtick_py"][1]), None]
    for v in y_tickvals[i]:
        xs += [b1(G["ytick_px"][0]), b1(G["ytick_px"][1]), None]
        ys += [v, v, None]
    fig.add_trace(go.Scatter(x=xs, y=ys, mode="lines", line=dict(color="#b5b5b5", width=1), **common))

    # axis lines
    xs = [b1(G["xax_px"][0]), b1(G["xax_px"][1]), None, b1(G["yax_px"]), b1(G["yax_px"])]
    ys = [b2(G["xax_py"]), b2(G["xax_py"]), None, b2(G["yax_py"][0]), b2(G["yax_py"][1])]
    fig.add_trace(go.Scatter(x=xs, y=ys, mode="lines", line=dict(color="#333", width=1.1), **common))

    # scatter points
    for k, pts in enumerate(POINTS[i]):
        fig.add_trace(go.Scatter(x=[p[0] for p in pts], y=[p[1] for p in pts], mode="markers",
                                 marker=MARKERS[k], **common))

    # ellipses
    t = np.linspace(0, 2 * np.pi, 181)
    for cx, cy, a, b, ang in ELLIPSES[i]:
        th = np.radians(ang)
        ex = cx + (a * np.cos(t) * np.cos(th) - b * np.sin(t) * np.sin(th)) / G["sx"]
        ey = cy + (a * np.cos(t) * np.sin(th) + b * np.sin(t) * np.cos(th)) / G["sy"]
        fig.add_trace(go.Scatter(x=ex, y=ey, mode="lines", line=dict(color="#1a1a1a", width=1.7), **common))

    x0, x1, y0, y1 = G["dom"]
    layout_axes["xaxis" + n] = dict(
        domain=[x0 / W, x1 / W], range=[b1(x0), b1(x1)], tickvals=x_tickvals, ticktext=x_ticktext,
        ticks="", showgrid=False, zeroline=False, showline=False, anchor="free",
        position=1 - G["xlab_py"] / H, tickfont=dict(family=SANS, size=11.5, color="#222"), fixedrange=True)
    layout_axes["yaxis" + n] = dict(
        domain=[1 - y1 / H, 1 - y0 / H], range=[b2(y1), b2(y0)], tickvals=y_tickvals[i],
        ticktext=y_ticktext[i], ticks="", showgrid=False, zeroline=False, showline=False,
        anchor="free", position=G["ylab_px"] / W,
        tickfont=dict(family=SANS, size=11.5, color="#222"), fixedrange=True)

    def pap(px, py):
        return px / W, 1 - py / H

    tx, ty = pap(*G["title"])
    annotations.append(dict(x=tx, y=ty, xref="paper", yref="paper", text=speeds[i], showarrow=False,
                            xanchor="left", yanchor="middle", font=dict(family=SANS, size=19.5, color="#222")))
    bx_, by_ = pap(*G["b2"])
    annotations.append(dict(x=bx_, y=by_, xref="paper", yref="paper", text="β2", showarrow=False,
                            xanchor="center", yanchor="middle", font=dict(family=SANS, size=13, color="#333")))
    bx_, by_ = pap(*G["b1"])
    annotations.append(dict(x=bx_, y=by_, xref="paper", yref="paper", text="β1", showarrow=False,
                            xanchor="center", yanchor="middle", font=dict(family=SANS, size=13, color="#333")))
    lx, ly = pap(*G["letter"])
    annotations.append(dict(x=lx, y=ly, xref="paper", yref="paper", text="<i>" + panel_letters[i] + "</i>",
                            showarrow=False, xanchor="center", yanchor="middle",
                            font=dict(family="Liberation Serif", size=22, color="#111")))
    for k in range(4):
        lx, ly = pap(G["lab_px"], G["lab_py"][k])
        annotations.append(dict(x=lx, y=ly, xref="paper", yref="paper", text=class_labels[i][k],
                                showarrow=False, xanchor="left", yanchor="middle",
                                font=dict(family=SANS, size=12, color="#333")))

fig.update_layout(
    width=W, height=H, autosize=False,
    margin=dict(l=0, r=0, t=0, b=0, pad=0),
    paper_bgcolor="white", plot_bgcolor="rgba(0,0,0,0)",
    showlegend=False, annotations=annotations, **layout_axes)

fig.write_html("out.html", config={"displayModeBar": False},
               post_script="document.body.style.margin='0';document.body.style.overflow='hidden';")
